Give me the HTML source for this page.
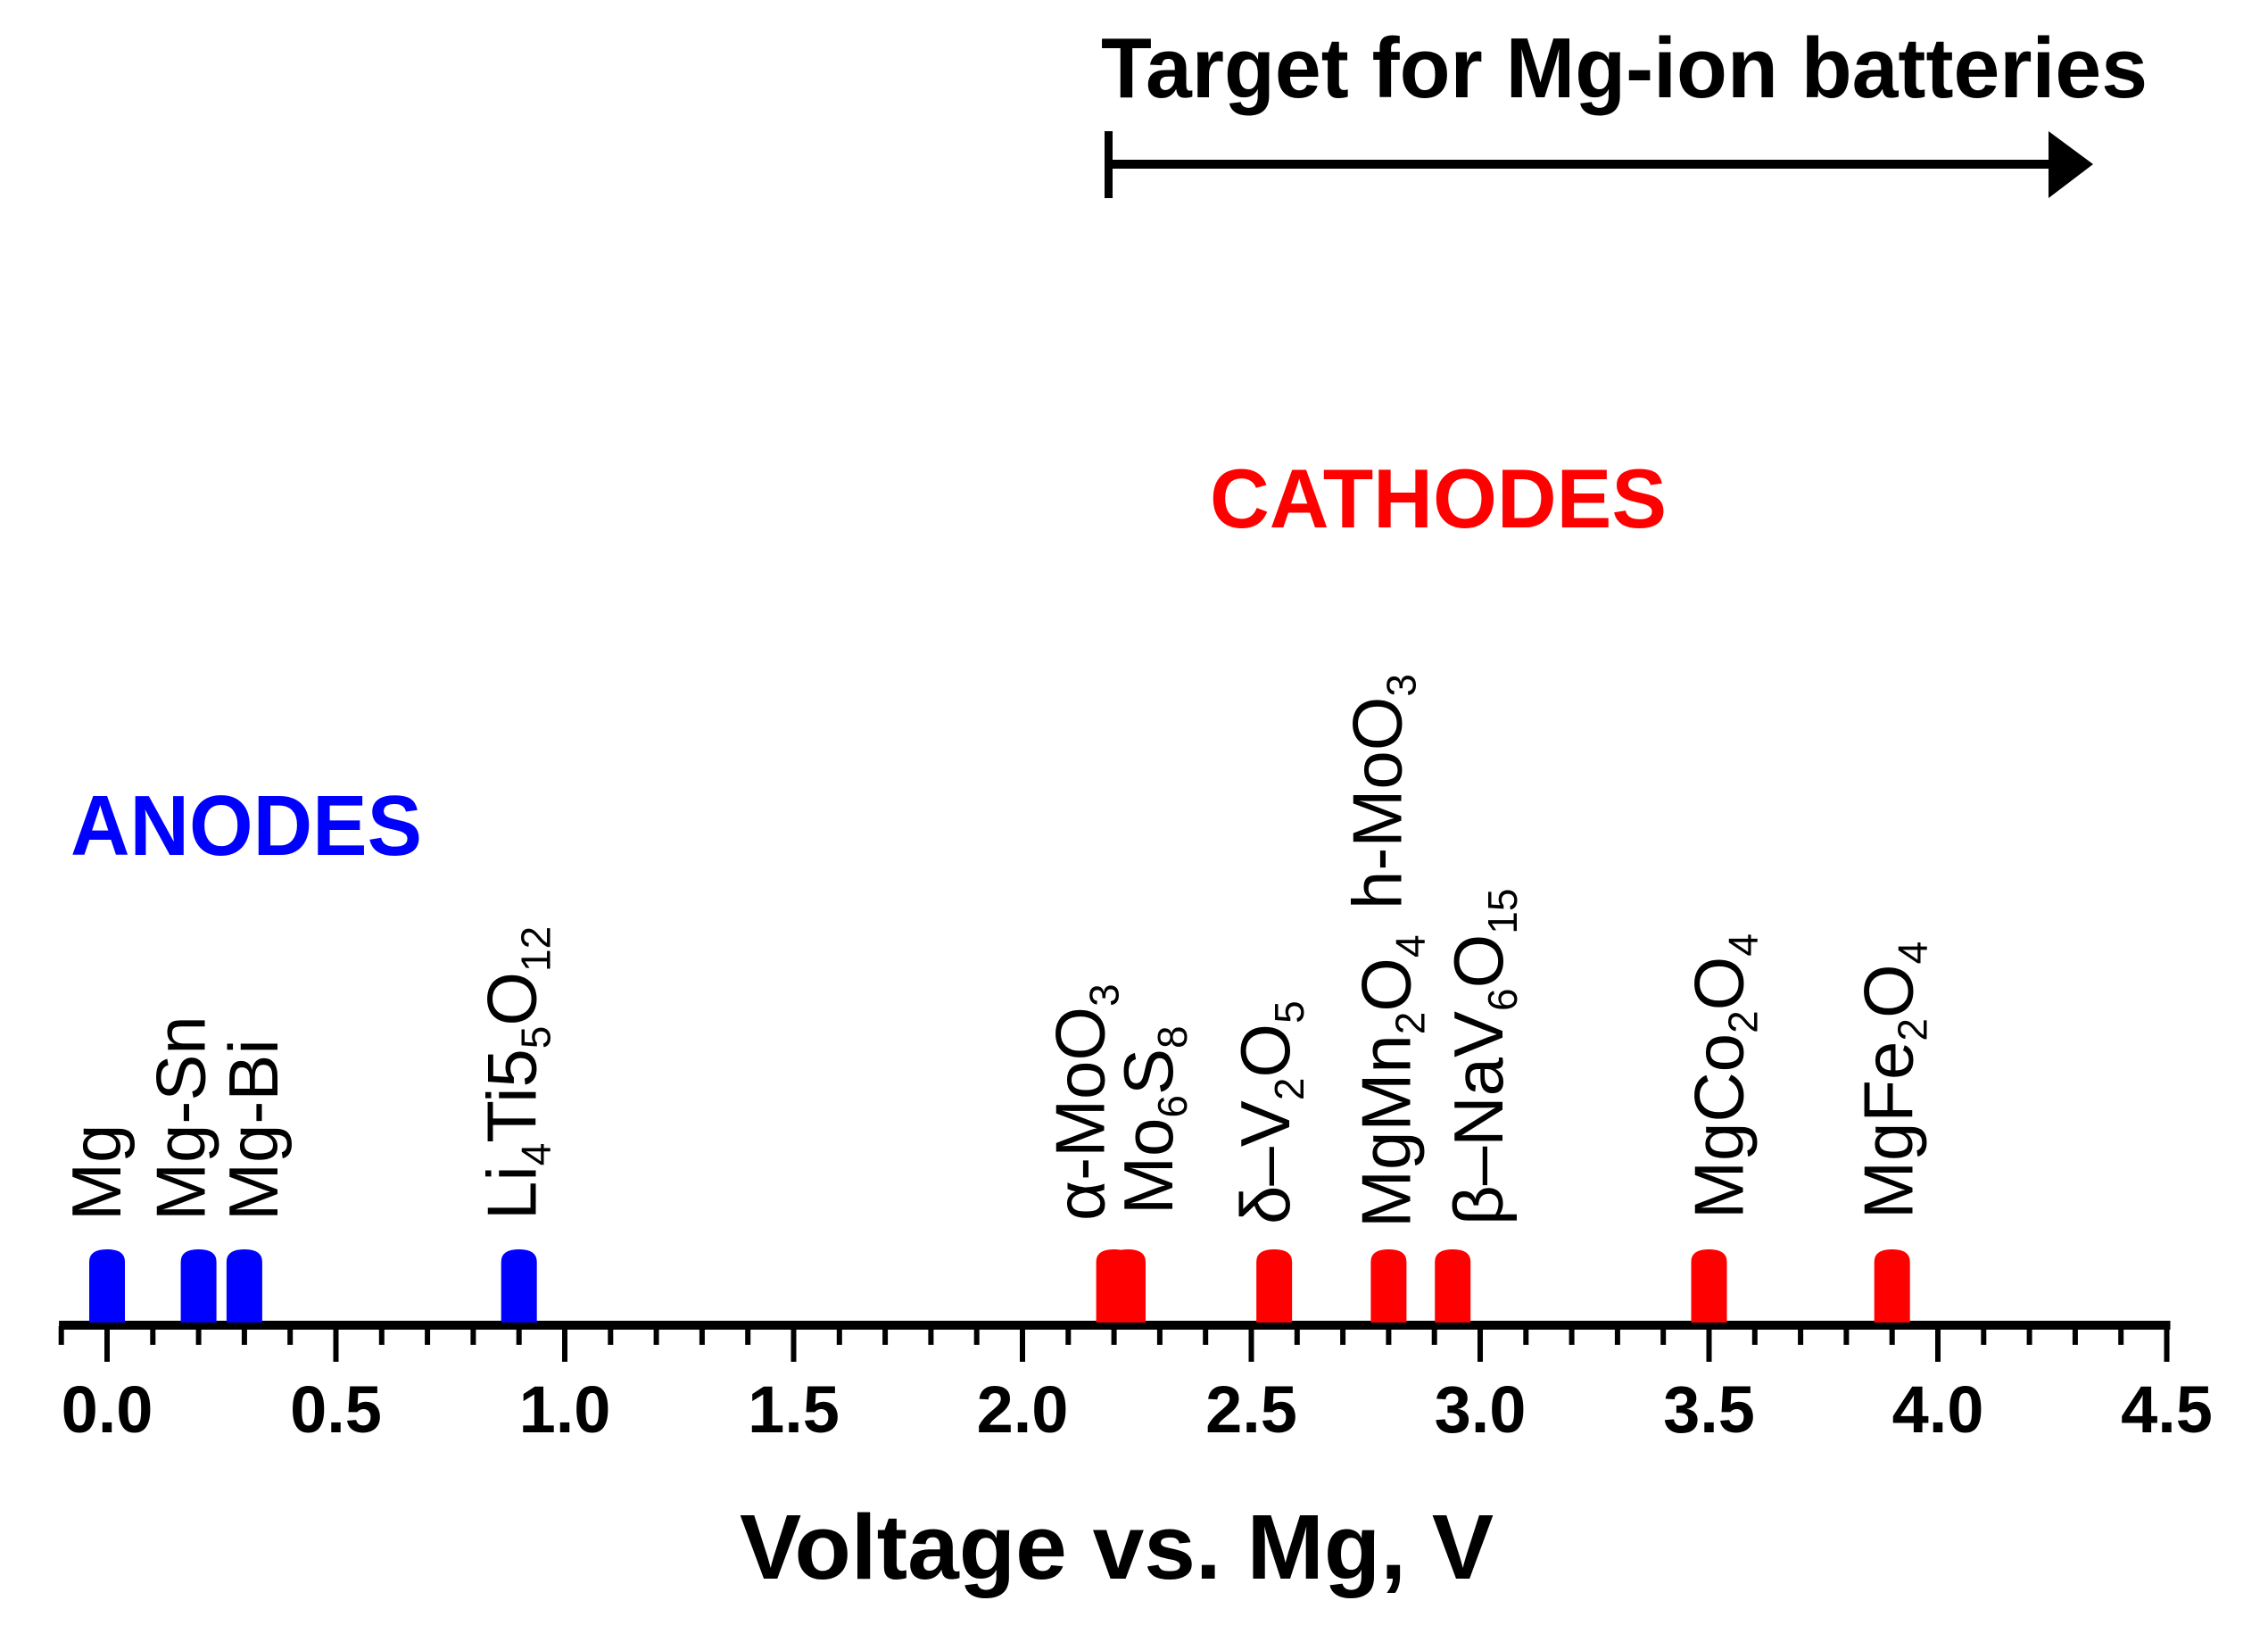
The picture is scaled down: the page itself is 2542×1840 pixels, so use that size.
<!DOCTYPE html>
<html><head><meta charset="utf-8"><style>
html,body{margin:0;padding:0;background:#fff;}
svg{display:block;}
text{font-family:"Liberation Sans",Arial,sans-serif;}
</style></head><body>
<svg id="chart" width="2542" height="1840" viewBox="0 0 2542 1840" xmlns="http://www.w3.org/2000/svg">
<rect width="2542" height="1840" fill="#fff"/>
<text x="1234" y="109" font-size="96" font-weight="bold" textLength="1173" lengthAdjust="spacingAndGlyphs">Target for Mg-ion batteries</text>
<g>
<rect x="1238" y="147" width="9" height="75" fill="#000"/>
<rect x="1242" y="179" width="1058" height="10" fill="#000"/>
<polygon points="2296,147 2346,184 2296,222" fill="#000"/>
</g>
<text x="1356" y="591" font-size="94" font-weight="bold" fill="#ff0000" textLength="512" lengthAdjust="spacingAndGlyphs">CATHODES</text>
<text x="79" y="958" font-size="96" font-weight="bold" fill="#0000ff" textLength="394" lengthAdjust="spacingAndGlyphs">ANODES</text>
<g id="axis"></g>
<g id="marks"></g>
<g id="labels"></g>
<text x="829" y="1769" font-size="103" font-weight="bold" textLength="845" lengthAdjust="spacingAndGlyphs">Voltage vs. Mg, V</text>
</svg>
<script>
const materials = ["Mg","Mg-Sn","Mg-Bi","Li4Ti5O12","α-MoO3","Mo6S8","δ–V2O5","MgMn2O4","h-MoO3","β–NaV6O15","MgCo2O4","MgFe2O4"];
const voltages = [0.0,0.2,0.3,0.9,2.2,2.23,2.55,2.8,2.8,2.94,3.5,3.9];
const kinds = ["anode","anode","anode","anode","cathode","cathode","cathode","cathode","cathode","cathode","cathode","cathode"];
const tickValues = [0,0.5,1,1.5,2,2.5,3,3.5,4,4.5];
const tickLabels = ["0.0","0.5","1.0","1.5","2.0","2.5","3.0","3.5","4.0","4.5"];
// label layout (pixel offsets, not data)
const labelParts = [
 [["Mg",0]],[["Mg-Sn",0]],[["Mg-Bi",0]],
 [["Li",0],["4",1],["Ti5",0],["5",1],["O",0],["12",1]],
 [["α-MoO",0],["3",1]],[["Mo",0],["6",1],["S",0],["8",1]],
 [["δ–V",0],["2",1],["O",0],["5",1]],[["MgMn",0],["2",1],["O",0],["4",1]],
 [["h-MoO",0],["3",1]],[["β–NaV",0],["6",1],["O",0],["15",1]],
 [["MgCo",0],["2",1],["O",0],["4",1]],[["MgFe",0],["2",1],["O",0],["4",1]]
];
const labelDx = [15,7,37,19,-11,50,17,24,14,56,38,23];
const labelY = [1368,1368,1368,1367,1368,1361,1372,1376,1019,1373,1366,1366];

const NS="http://www.w3.org/2000/svg";
const X0=120, PX=513, AXY=1486;
function xs(v){return X0+v*PX;}
function mk(tag,attrs,parent){const e=document.createElementNS(NS,tag);for(const k in attrs)e.setAttribute(k,attrs[k]);parent.appendChild(e);return e;}
const axis=document.getElementById('axis');
const line=mk('rect',{x:xs(-0.105),y:AXY-6,width:xs(4.5)-xs(-0.105)+4,height:10,fill:'#000'},axis);


for(let i=-1;i<=45;i++){
  const v=i/10; const major=(i%5===0&&i>=0);
  const t=mk('rect',{x:xs(v)-3,y:AXY,width:6,height:major?40:21,fill:'#000'},axis);
  
  
}
tickValues.forEach((v,i)=>{
  const t=mk('text',{x:xs(v),y:1605,'font-size':74,'font-weight':'bold','text-anchor':'middle'},axis);
  t.textContent=tickLabels[i];
  
  
});
const marks=document.getElementById('marks');
voltages.forEach((v,i)=>{
  if(materials[i]==="h-MoO3")return;
  const cx=xs(v), w=40, top=1400;
  const p=mk('path',{d:`M${cx-w/2},${AXY-4} L${cx-w/2},${top+14} Q${cx-w/2},${top} ${cx},${top} Q${cx+w/2},${top} ${cx+w/2},${top+14} L${cx+w/2},${AXY-4} Z`,fill:kinds[i]==='anode'?'#0000ff':'#ff0000'},marks);
  
  
});
const labels=document.getElementById('labels');
materials.forEach((m,i)=>{
  const bx=xs(voltages[i])+labelDx[i], by=labelY[i];
  const t=mk('text',{x:0,y:0,'font-size':78,transform:`translate(${bx},${by}) rotate(-90)`},labels);
  labelParts[i].forEach(([s,sub])=>{
    const ts=mk('tspan',sub?{'font-size':46}:{},t);
    ts.textContent=s;
    if(sub){ts.setAttribute('baseline-shift','-16');}
  });
  
  
});
</script>
</body></html>
